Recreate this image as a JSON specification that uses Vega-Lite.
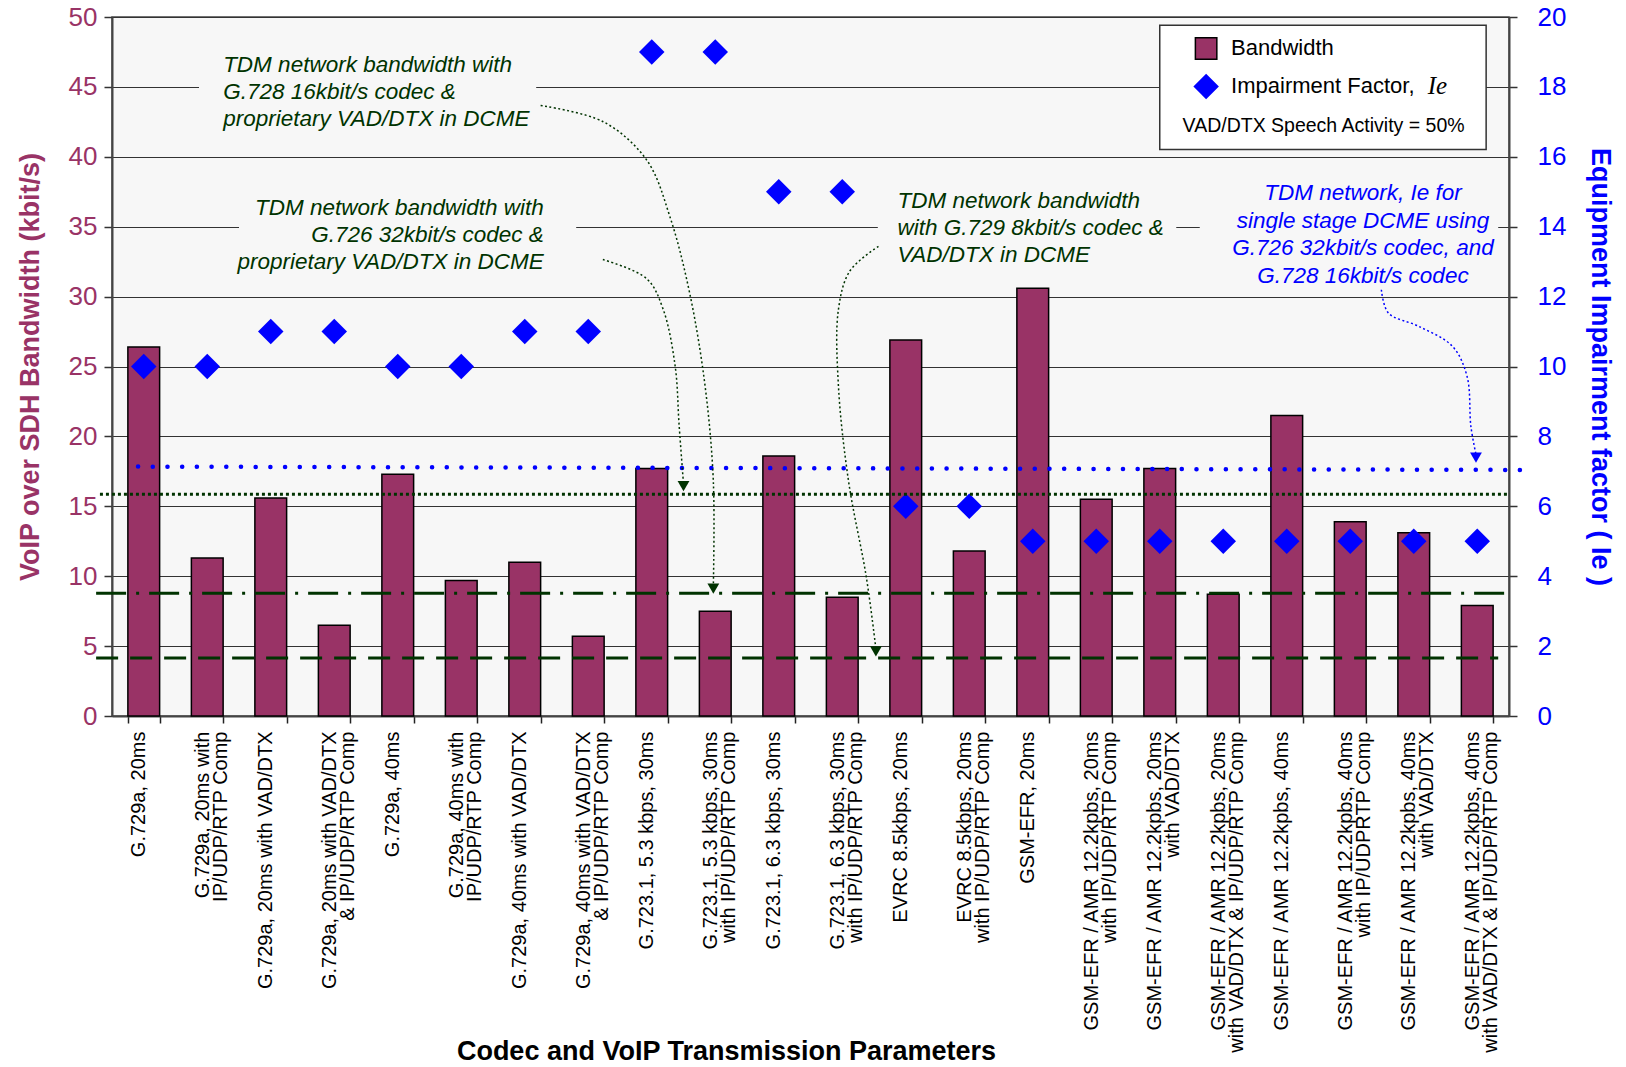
{
  "$schema": "https://vega.github.io/schema/vega-lite/v6.json",
  "width": 1397,
  "height": 699,
  "autosize": "none",
  "padding": {"left": 112, "top": 17, "right": 117, "bottom": 351},
  "background": "white",
  "config": {
    "view": {"fill": "#f7f7f7", "stroke": "#444", "strokeWidth": 1.5},
    "font": "Liberation Sans"
  },
  "datasets": {
    "codecs": [
      {"codec": "G.729a, 20ms", "bw": 26.4, "ie": 10},
      {"codec": "G.729a, 20ms with|IP/UDP/RTP Comp", "bw": 11.3, "ie": 10},
      {"codec": "G.729a, 20ms with VAD/DTX", "bw": 15.6, "ie": 11},
      {"codec": "G.729a, 20ms with VAD/DTX|& IP/UDP/RTP Comp", "bw": 6.5, "ie": 11},
      {"codec": "G.729a, 40ms", "bw": 17.3, "ie": 10},
      {"codec": "G.729a, 40ms with|IP/UDP/RTP Comp", "bw": 9.7, "ie": 10},
      {"codec": "G.729a, 40ms with VAD/DTX", "bw": 11.0, "ie": 11},
      {"codec": "G.729a, 40ms with VAD/DTX|& IP/UDP/RTP Comp", "bw": 5.7, "ie": 11},
      {"codec": "G.723.1, 5.3 kbps, 30ms", "bw": 17.7, "ie": 19},
      {"codec": "G.723.1, 5.3 kbps, 30ms|with IP/UDP/RTP Comp", "bw": 7.5, "ie": 19},
      {"codec": "G.723.1, 6.3 kbps, 30ms", "bw": 18.6, "ie": 15},
      {"codec": "G.723.1, 6.3 kbps, 30ms|with IP/UDP/RTP Comp", "bw": 8.5, "ie": 15},
      {"codec": "EVRC 8.5kbps, 20ms", "bw": 26.9, "ie": 6},
      {"codec": "EVRC 8.5kbps, 20ms|with IP/UDP/RTP Comp", "bw": 11.8, "ie": 6},
      {"codec": "GSM-EFR, 20ms", "bw": 30.6, "ie": 5},
      {"codec": "GSM-EFR / AMR 12.2kpbs, 20ms|with IP/UDP/RTP Comp", "bw": 15.5, "ie": 5},
      {"codec": "GSM-EFR / AMR 12.2kpbs, 20ms|with VAD/DTX", "bw": 17.7, "ie": 5},
      {"codec": "GSM-EFR / AMR 12.2kpbs, 20ms|with VAD/DTX & IP/UDP/RTP Comp", "bw": 8.7, "ie": 5},
      {"codec": "GSM-EFR / AMR 12.2kpbs, 40ms", "bw": 21.5, "ie": 5},
      {"codec": "GSM-EFR / AMR 12.2kpbs, 40ms|with IP/UDPRTP Comp", "bw": 13.9, "ie": 5},
      {"codec": "GSM-EFR / AMR 12.2kpbs, 40ms|with VAD/DTX", "bw": 13.1, "ie": 5},
      {"codec": "GSM-EFR / AMR 12.2kpbs, 40ms|with VAD/DTX & IP/UDP/RTP Comp", "bw": 7.9, "ie": 5}
    ],
    "refs": [
      {"kind": "blue", "x": 0.41, "x2": 22.28, "y": 17.84, "y2": 17.6},
      {"kind": "g16", "x": -0.19, "x2": 22.0, "y": 15.87, "y2": 15.87},
      {"kind": "g8", "x": -0.25, "x2": 22.0, "y": 8.78, "y2": 8.78},
      {"kind": "g4", "x": -0.25, "x2": 21.83, "y": 4.15, "y2": 4.15}
    ],
    "boxes": [
      {"x": 1.37, "x2": 6.68, "y": 48.4, "y2": 41.2},
      {"x": 2.0, "x2": 7.31, "y": 38.0, "y2": 30.85},
      {"x": 12.06, "x2": 16.76, "y": 38.37, "y2": 31.2},
      {"x": 17.13, "x2": 21.83, "y": 39.08, "y2": 30.49}
    ],
    "notes": [
      {"note": "left", "x": 1.75, "y": 46.6, "text": "TDM network bandwidth with\nG.728 16kbit/s codec &\nproprietary VAD/DTX in DCME"},
      {"note": "right", "x": 6.8, "y": 36.36, "text": "TDM network bandwidth with\nG.726 32kbit/s codec &\nproprietary VAD/DTX in DCME"},
      {"note": "left", "x": 12.37, "y": 36.82, "text": "TDM network bandwidth\nwith G.729 8kbit/s codec &\nVAD/DTX in DCME"},
      {"note": "blue", "x": 19.7, "y": 37.42, "text": "TDM network, Ie for\nsingle stage DCME using\nG.726 32kbit/s codec, and\nG.728 16kbit/s codec"}
    ],
    "arrows": [
      {"arrow": "A", "ord": 1, "x": 6.75, "y": 43.67},
      {"arrow": "A", "ord": 2, "x": 7.74, "y": 42.5},
      {"arrow": "A", "ord": 3, "x": 8.42, "y": 39.77},
      {"arrow": "A", "ord": 4, "x": 8.79, "y": 35.66},
      {"arrow": "A", "ord": 5, "x": 9.1, "y": 30.19},
      {"arrow": "A", "ord": 6, "x": 9.34, "y": 23.6},
      {"arrow": "A", "ord": 7, "x": 9.47, "y": 16.77},
      {"arrow": "A", "ord": 8, "x": 9.47, "y": 9.3},
      {"arrow": "B", "ord": 1, "x": 7.73, "y": 32.65},
      {"arrow": "B", "ord": 2, "x": 8.42, "y": 31.28},
      {"arrow": "B", "ord": 3, "x": 8.68, "y": 29.09},
      {"arrow": "B", "ord": 4, "x": 8.87, "y": 24.98},
      {"arrow": "B", "ord": 5, "x": 8.93, "y": 20.87},
      {"arrow": "B", "ord": 6, "x": 9.0, "y": 16.6},
      {"arrow": "C", "ord": 1, "x": 12.07, "y": 33.6},
      {"arrow": "C", "ord": 2, "x": 11.62, "y": 31.83},
      {"arrow": "C", "ord": 3, "x": 11.44, "y": 29.09},
      {"arrow": "C", "ord": 4, "x": 11.44, "y": 23.6},
      {"arrow": "C", "ord": 5, "x": 11.6, "y": 16.77},
      {"arrow": "C", "ord": 6, "x": 11.88, "y": 9.91},
      {"arrow": "C", "ord": 7, "x": 12.03, "y": 4.8},
      {"arrow": "D", "ord": 1, "x": 19.99, "y": 30.49},
      {"arrow": "D", "ord": 2, "x": 20.1, "y": 28.83},
      {"arrow": "D", "ord": 3, "x": 20.58, "y": 27.87},
      {"arrow": "D", "ord": 4, "x": 21.11, "y": 26.44},
      {"arrow": "D", "ord": 5, "x": 21.34, "y": 24.29},
      {"arrow": "D", "ord": 6, "x": 21.4, "y": 20.71},
      {"arrow": "D", "ord": 7, "x": 21.48, "y": 18.7}
    ],
    "heads": [
      {"arrow": "A", "x": 9.47, "y": 9.12},
      {"arrow": "B", "x": 9.0, "y": 16.45},
      {"arrow": "C", "x": 12.03, "y": 4.62},
      {"arrow": "D", "x": 21.48, "y": 18.49}
    ],
    "legendbox": [
      {"x": 16.5, "x2": 21.64, "y": 49.41, "y2": 40.52}
    ],
    "legenditems": [
      {"item": "bar", "x": 17.23, "y": 47.75, "text": "Bandwidth"},
      {"item": "ie", "x": 17.23, "y": 45.03, "text": "Impairment Factor,"}
    ],
    "legendextra": [
      {"item": "ie-sym", "x": 20.72, "y": 45.03, "text": "Ie"},
      {"item": "activity", "x": 19.08, "y": 42.23, "text": "VAD/DTX Speech Activity = 50%"}
    ]
  },
  "layer": [
    {
      "data": {"name": "codecs"},
      "mark": {"type": "bar", "fill": "#993366", "stroke": "#000000", "strokeWidth": 1.5},
      "encoding": {
        "x": {
          "field": "codec", "type": "nominal", "sort": null,
          "scale": {"paddingInner": 0.5, "paddingOuter": 0.25},
          "axis": {
            "title": "Codec and VoIP Transmission Parameters",
            "titleFontSize": 27, "titleFontWeight": "bold", "titleColor": "#000000",
            "titleX": 614, "titleY": 343, "titleBaseline": "alphabetic", "titleAlign": "center", "titleAnchor": null,
            "labelAngle": 270, "labelFontSize": 20, "labelLineHeight": 18,
            "labelExpr": "split(datum.label, '|')",
            "labelLimit": 600, "labelOffset": -5,
            "labelPadding": 8, "labelColor": "#000000",
            "tickBand": "extent", "tickSize": 7, "tickColor": "#222", "tickWidth": 1.5,
            "domainColor": "#444", "domainWidth": 2
          }
        },
        "y": {
          "field": "bw", "type": "quantitative",
          "scale": {"domain": [0, 50], "nice": false},
          "axis": {
            "title": "VoIP over SDH Bandwidth (kbit/s)",
            "values": [0, 5, 10, 15, 20, 25, 30, 35, 40, 45, 50],
            "grid": true, "gridColor": "#333", "gridWidth": 1,
            "labelFontSize": 26, "labelColor": "#993366", "labelPadding": 7,
            "titleColor": "#993366", "titleFontSize": 27, "titleFontWeight": "bold", "titlePadding": 24,
            "tickSize": 8, "tickColor": "#333", "tickWidth": 1.5,
            "domainColor": "#444", "domainWidth": 2
          }
        }
      }
    },
    {
      "data": {"name": "codecs"},
      "mark": {"type": "point", "shape": "diamond", "filled": true, "fill": "#0000ff", "size": 650, "opacity": 1, "strokeWidth": 0},
      "encoding": {
        "x": {
          "field": "codec", "type": "nominal", "sort": null,
          "scale": {"paddingInner": 0.5, "paddingOuter": 0.25},
          "axis": null
        },
        "y": {
          "field": "ie", "type": "quantitative",
          "scale": {"domain": [0, 20], "nice": false},
          "axis": {
            "orient": "right",
            "title": "Equipment Impairment factor ( Ie )",
            "values": [0, 2, 4, 6, 8, 10, 12, 14, 16, 18, 20],
            "grid": false,
            "labelFontSize": 26, "labelColor": "#0000ff", "labelPadding": 20,
            "titleColor": "#0000ff", "titleFontSize": 27, "titleFontWeight": "bold", "titlePadding": 20,
            "tickSize": 8, "tickColor": "#333", "tickWidth": 1.5,
            "domainColor": "#444", "domainWidth": 2
          }
        }
      }
    },
    {
      "layer": [
        {
          "data": {"name": "boxes"},
          "mark": {"type": "rect", "fill": "#f7f7f7", "stroke": null},
          "encoding": {
            "x": {"field": "x", "type": "quantitative", "scale": {"domain": [0, 22], "nice": false}, "axis": null},
            "x2": {"field": "x2"},
            "y": {"field": "y", "type": "quantitative", "scale": {"domain": [0, 50], "nice": false}, "axis": null},
            "y2": {"field": "y2"}
          }
        },
        {
          "data": {"name": "refs"},
          "transform": [{"filter": "datum.kind === 'blue'"}],
          "mark": {"type": "rule", "color": "#0000ff", "strokeWidth": 4.5, "strokeDash": [0.1, 14.6], "strokeCap": "round"},
          "encoding": {
            "x": {"field": "x", "type": "quantitative", "scale": {"domain": [0, 22], "nice": false}, "axis": null},
            "x2": {"field": "x2"},
            "y": {"field": "y", "type": "quantitative", "scale": {"domain": [0, 50], "nice": false}, "axis": null},
            "y2": {"field": "y2"}
          }
        },
        {
          "data": {"name": "refs"},
          "transform": [{"filter": "datum.kind === 'g16'"}],
          "mark": {"type": "rule", "color": "#003300", "strokeWidth": 3, "strokeDash": [3, 3]},
          "encoding": {
            "x": {"field": "x", "type": "quantitative", "scale": {"domain": [0, 22], "nice": false}, "axis": null},
            "x2": {"field": "x2"},
            "y": {"field": "y", "type": "quantitative", "scale": {"domain": [0, 50], "nice": false}, "axis": null}
          }
        },
        {
          "data": {"name": "refs"},
          "transform": [{"filter": "datum.kind === 'g8'"}],
          "mark": {"type": "rule", "color": "#003300", "strokeWidth": 3, "strokeDash": [30, 10, 3, 10]},
          "encoding": {
            "x": {"field": "x", "type": "quantitative", "scale": {"domain": [0, 22], "nice": false}, "axis": null},
            "x2": {"field": "x2"},
            "y": {"field": "y", "type": "quantitative", "scale": {"domain": [0, 50], "nice": false}, "axis": null}
          }
        },
        {
          "data": {"name": "refs"},
          "transform": [{"filter": "datum.kind === 'g4'"}],
          "mark": {"type": "rule", "color": "#003300", "strokeWidth": 3, "strokeDash": [22, 12]},
          "encoding": {
            "x": {"field": "x", "type": "quantitative", "scale": {"domain": [0, 22], "nice": false}, "axis": null},
            "x2": {"field": "x2"},
            "y": {"field": "y", "type": "quantitative", "scale": {"domain": [0, 50], "nice": false}, "axis": null}
          }
        },
        {
          "data": {"name": "arrows"},
          "transform": [{"filter": "datum.arrow !== 'D'"}],
          "mark": {"type": "line", "interpolate": "catmull-rom", "color": "#003300", "strokeWidth": 1.5, "strokeDash": [2, 2.5]},
          "encoding": {
            "x": {"field": "x", "type": "quantitative", "scale": {"domain": [0, 22], "nice": false}, "axis": null},
            "y": {"field": "y", "type": "quantitative", "scale": {"domain": [0, 50], "nice": false}, "axis": null},
            "detail": {"field": "arrow"},
            "order": {"field": "ord"}
          }
        },
        {
          "data": {"name": "arrows"},
          "transform": [{"filter": "datum.arrow === 'D'"}],
          "mark": {"type": "line", "interpolate": "catmull-rom", "color": "#0000ff", "strokeWidth": 1.5, "strokeDash": [2, 2.5]},
          "encoding": {
            "x": {"field": "x", "type": "quantitative", "scale": {"domain": [0, 22], "nice": false}, "axis": null},
            "y": {"field": "y", "type": "quantitative", "scale": {"domain": [0, 50], "nice": false}, "axis": null},
            "order": {"field": "ord"}
          }
        },
        {
          "data": {"name": "heads"},
          "transform": [{"filter": "datum.arrow !== 'D'"}],
          "mark": {"type": "point", "shape": "triangle-down", "filled": true, "fill": "#003300", "opacity": 1, "size": 140, "strokeWidth": 0},
          "encoding": {
            "x": {"field": "x", "type": "quantitative", "scale": {"domain": [0, 22], "nice": false}, "axis": null},
            "y": {"field": "y", "type": "quantitative", "scale": {"domain": [0, 50], "nice": false}, "axis": null}
          }
        },
        {
          "data": {"name": "heads"},
          "transform": [{"filter": "datum.arrow === 'D'"}],
          "mark": {"type": "point", "shape": "triangle-down", "filled": true, "fill": "#0000ff", "opacity": 1, "size": 140, "strokeWidth": 0},
          "encoding": {
            "x": {"field": "x", "type": "quantitative", "scale": {"domain": [0, 22], "nice": false}, "axis": null},
            "y": {"field": "y", "type": "quantitative", "scale": {"domain": [0, 50], "nice": false}, "axis": null}
          }
        },
        {
          "data": {"name": "notes"},
          "transform": [{"filter": "datum.note === 'left'"}],
          "mark": {"type": "text", "align": "left", "baseline": "middle", "lineBreak": "\n", "lineHeight": 27, "fontSize": 22.5, "fontStyle": "italic", "color": "#003300"},
          "encoding": {
            "x": {"field": "x", "type": "quantitative", "scale": {"domain": [0, 22], "nice": false}, "axis": null},
            "y": {"field": "y", "type": "quantitative", "scale": {"domain": [0, 50], "nice": false}, "axis": null},
            "text": {"field": "text"}
          }
        },
        {
          "data": {"name": "notes"},
          "transform": [{"filter": "datum.note === 'right'"}],
          "mark": {"type": "text", "align": "right", "baseline": "middle", "lineBreak": "\n", "lineHeight": 27, "fontSize": 22.5, "fontStyle": "italic", "color": "#003300"},
          "encoding": {
            "x": {"field": "x", "type": "quantitative", "scale": {"domain": [0, 22], "nice": false}, "axis": null},
            "y": {"field": "y", "type": "quantitative", "scale": {"domain": [0, 50], "nice": false}, "axis": null},
            "text": {"field": "text"}
          }
        },
        {
          "data": {"name": "notes"},
          "transform": [{"filter": "datum.note === 'blue'"}],
          "mark": {"type": "text", "align": "center", "baseline": "middle", "lineBreak": "\n", "lineHeight": 27.8, "fontSize": 22.5, "fontStyle": "italic", "color": "#0000ff"},
          "encoding": {
            "x": {"field": "x", "type": "quantitative", "scale": {"domain": [0, 22], "nice": false}, "axis": null},
            "y": {"field": "y", "type": "quantitative", "scale": {"domain": [0, 50], "nice": false}, "axis": null},
            "text": {"field": "text"}
          }
        },
        {
          "data": {"name": "legendbox"},
          "mark": {"type": "rect", "fill": "#ffffff", "stroke": "#333333", "strokeWidth": 1.5},
          "encoding": {
            "x": {"field": "x", "type": "quantitative", "scale": {"domain": [0, 22], "nice": false}, "axis": null},
            "x2": {"field": "x2"},
            "y": {"field": "y", "type": "quantitative", "scale": {"domain": [0, 50], "nice": false}, "axis": null},
            "y2": {"field": "y2"}
          }
        },
        {
          "data": {"name": "legenditems"},
          "transform": [{"filter": "datum.item === 'bar'"}],
          "mark": {"type": "point", "shape": "square", "filled": true, "fill": "#993366", "stroke": "#000000", "strokeWidth": 1.5, "opacity": 1, "size": 460},
          "encoding": {
            "x": {"field": "x", "type": "quantitative", "scale": {"domain": [0, 22], "nice": false}, "axis": null},
            "y": {"field": "y", "type": "quantitative", "scale": {"domain": [0, 50], "nice": false}, "axis": null}
          }
        },
        {
          "data": {"name": "legenditems"},
          "transform": [{"filter": "datum.item === 'ie'"}],
          "mark": {"type": "point", "shape": "diamond", "filled": true, "fill": "#0000ff", "strokeWidth": 0, "opacity": 1, "size": 650},
          "encoding": {
            "x": {"field": "x", "type": "quantitative", "scale": {"domain": [0, 22], "nice": false}, "axis": null},
            "y": {"field": "y", "type": "quantitative", "scale": {"domain": [0, 50], "nice": false}, "axis": null}
          }
        },
        {
          "data": {"name": "legenditems"},
          "mark": {"type": "text", "align": "left", "baseline": "middle", "dx": 25, "fontSize": 22, "color": "#000000"},
          "encoding": {
            "x": {"field": "x", "type": "quantitative", "scale": {"domain": [0, 22], "nice": false}, "axis": null},
            "y": {"field": "y", "type": "quantitative", "scale": {"domain": [0, 50], "nice": false}, "axis": null},
            "text": {"field": "text"}
          }
        },
        {
          "data": {"name": "legendextra"},
          "transform": [{"filter": "datum.item === 'ie-sym'"}],
          "mark": {"type": "text", "align": "left", "baseline": "middle", "fontSize": 25, "font": "Liberation Serif", "fontStyle": "italic", "color": "#000000"},
          "encoding": {
            "x": {"field": "x", "type": "quantitative", "scale": {"domain": [0, 22], "nice": false}, "axis": null},
            "y": {"field": "y", "type": "quantitative", "scale": {"domain": [0, 50], "nice": false}, "axis": null},
            "text": {"field": "text"}
          }
        },
        {
          "data": {"name": "legendextra"},
          "transform": [{"filter": "datum.item === 'activity'"}],
          "mark": {"type": "text", "align": "center", "baseline": "middle", "fontSize": 19.5, "color": "#000000"},
          "encoding": {
            "x": {"field": "x", "type": "quantitative", "scale": {"domain": [0, 22], "nice": false}, "axis": null},
            "y": {"field": "y", "type": "quantitative", "scale": {"domain": [0, 50], "nice": false}, "axis": null},
            "text": {"field": "text"}
          }
        }
      ]
    }
  ],
  "resolve": {
    "scale": {"x": "independent", "y": "independent"},
    "axis": {"x": "independent", "y": "independent"}
  }
}
